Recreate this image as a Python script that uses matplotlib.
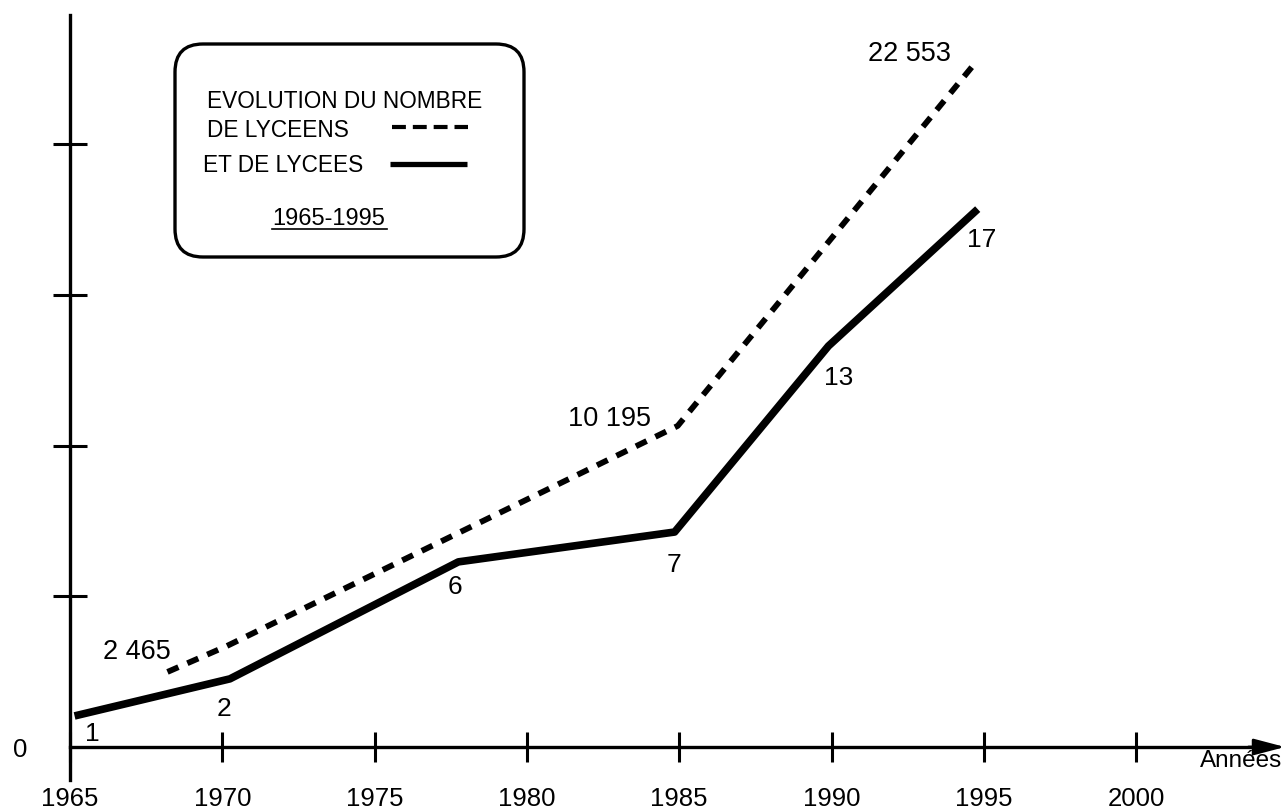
import matplotlib
matplotlib.use('Agg')
import matplotlib.pyplot as plt
from matplotlib.patches import FancyBboxPatch
from matplotlib.lines import Line2D

plt.rcParams['font.family'] = ['Liberation Sans', 'DejaVu Sans']
plt.rcParams['lines.scale_dashes'] = False

# ---------------- data ----------------
# number of lycées (solid line)
lycees_years = [1965.15, 1970.25, 1977.75, 1984.85, 1989.9, 1994.8]
lycees_values = [1.03, 2.26, 6.14, 7.13, 13.3, 17.84]
lycees_labels = ['1', '2', '6', '7', '13', '17']

# number of lycéens, in thousands (dashed line)
lyceens_years = [1968.2, 1970.15, 1984.95, 1994.8]
lyceens_values = [2.49, 3.35, 10.65, 22.79]
lyceens_labels = ['2 465', '', '10 195', '22 553']

year_ticks = [1965, 1970, 1975, 1980, 1985, 1990, 1995, 2000]
year_ticklabels = ['1965', '1970', '1975', '1980', '1985', '1990', '1995', '2000']
value_ticks = [5, 10, 15, 20]

legend_title = 'EVOLUTION DU NOMBRE'
legend_lyceens = 'DE LYCEENS'
legend_lycees = 'ET DE LYCEES'
legend_period = '1965-1995'
x_axis_label = 'Années'
origin_label = '0'

# ---------------- layout ----------------
W, H = 1286, 811
PXX = 30.46   # pixels per year
PXY = 30.15   # pixels per unit
X0_PX, Y0_PX = 70, 747

fig = plt.figure(figsize=(W / 100, H / 100), dpi=100)
ax = fig.add_axes([0, 0, 1, 1])
ax.set_xlim(1965 - X0_PX / PXX, 1965 + (W - X0_PX) / PXX)
ax.set_ylim(-(H - Y0_PX) / PXY, Y0_PX / PXY)

x_tip = 1965 + (1285 - X0_PX) / PXX

for s in ['top', 'right']:
    ax.spines[s].set_visible(False)
ax.spines['left'].set_position(('data', 1965))
ax.spines['left'].set_bounds(-(780 - Y0_PX) / PXY, (Y0_PX - 15) / PXY)
ax.spines['left'].set_linewidth(2.4)
ax.spines['bottom'].set_position(('data', 0))
ax.spines['bottom'].set_bounds(1965, x_tip - 0.8)
ax.spines['bottom'].set_linewidth(2.4)

ax.set_xticks(year_ticks, year_ticklabels)
ax.set_yticks(value_ticks, [''] * len(value_ticks))
ax.tick_params(axis='x', direction='inout', length=21.6, width=2.2, pad=18,
               labelsize=18.5, colors='black')
ax.tick_params(axis='y', direction='inout', length=24.5, width=2.2)

# arrow head on the x axis
ax.annotate('', xy=(x_tip, 0), xytext=(x_tip - 1.2, 0),
            arrowprops=dict(arrowstyle='-|>,head_length=19,head_width=5',
                            mutation_scale=1, lw=2.0, color='black',
                            shrinkA=0, shrinkB=0))

# data lines
ax.plot(lycees_years, lycees_values, color='black', lw=5.5,
        solid_capstyle='butt', solid_joinstyle='round')
ax.plot(lyceens_years, lyceens_values, color='black', lw=4.2,
        linestyle=(0, (8.6, 7.0)), dash_capstyle='butt', dash_joinstyle='round')

# value labels
lycees_offsets = [(18, -25), (-6, -37), (-3, -32), (-1, -40), (10, -39), (4, -38)]
lyceens_offsets = [(-31, 13), (0, 0), (-68, 0), (-68, -1)]
for xv, yv, lab, off in zip(lycees_years, lycees_values, lycees_labels, lycees_offsets):
    if lab:
        ax.annotate(lab, xy=(xv, yv), xytext=off, textcoords='offset pixels',
                    ha='center', va='baseline', fontsize=19)
for xv, yv, lab, off in zip(lyceens_years, lyceens_values, lyceens_labels, lyceens_offsets):
    if lab:
        ax.annotate(lab, xy=(xv, yv), xytext=off, textcoords='offset pixels',
                    ha='center', va='baseline', fontsize=19.5)

ax.annotate(origin_label, xy=(1965, 0), xytext=(-50, -10), textcoords='offset pixels',
            ha='center', va='baseline', fontsize=18.5)
ax.annotate(x_axis_label, xy=(x_tip, 0), xytext=(-44, -20), textcoords='offset pixels',
            ha='center', va='baseline', fontsize=17.5)

# ---------------- legend box (drawn in pixel space) ----------------
T = fig.dpi_scale_trans


def px(x, y):
    return x / 100, (H - y) / 100


box = FancyBboxPatch(px(175, 257), 3.49, 2.13,
                     boxstyle='round,pad=0,rounding_size=0.28',
                     transform=T, fc='white', ec='black', lw=2.4)
fig.add_artist(box)

for (x, y), s, fs in [((207, 108), legend_title, 16.3), ((207, 137), legend_lyceens, 16.3),
                      ((203, 172), legend_lycees, 16.3), ((272, 225), legend_period, 17)]:
    fx, fy = px(x, y)
    fig.text(fx, fy, s, transform=T, fontsize=fs, ha='left', va='baseline')

(ux0, uy), (ux1, _) = px(272, 229), px(387, 229)
fig.add_artist(Line2D([ux0, ux1], [uy, uy], transform=T, color='black', lw=1.2))

(dx0, dy), (dx1, _) = px(392, 127), px(468, 127)
fig.add_artist(Line2D([dx0, dx1], [dy, dy], transform=T, color='black', lw=3.0,
                      linestyle=(0, (10, 5)), dash_capstyle='butt'))
(sx0, sy), (sx1, _) = px(390, 164), px(467, 164)
fig.add_artist(Line2D([sx0, sx1], [sy, sy], transform=T, color='black', lw=3.8,
                      solid_capstyle='butt'))

fig.savefig('out.png', dpi=100, facecolor='white')
